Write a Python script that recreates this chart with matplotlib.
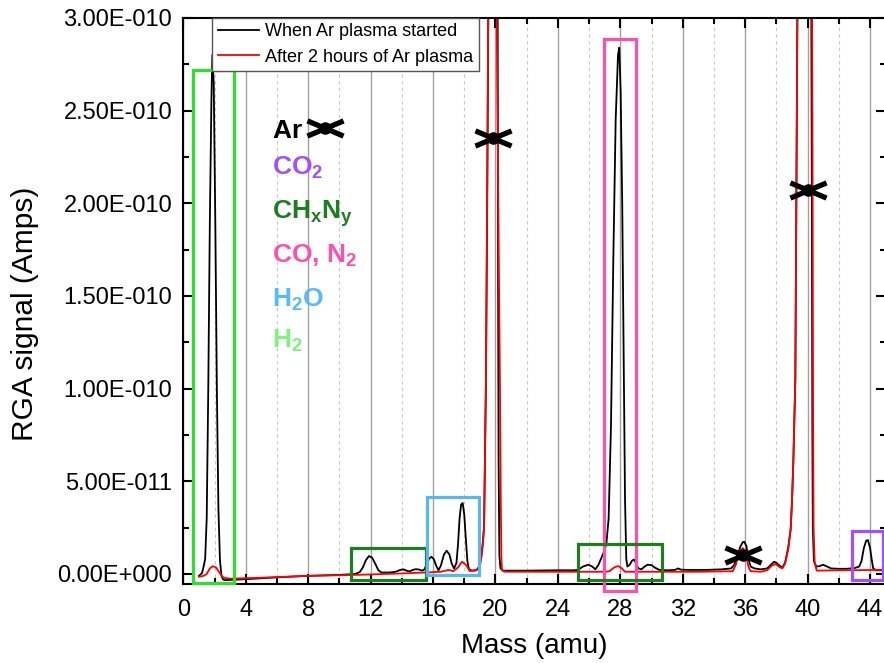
import numpy as np
import matplotlib
matplotlib.use("Agg")
import matplotlib.pyplot as plt
from matplotlib.ticker import MultipleLocator, FuncFormatter
from matplotlib.patches import Rectangle
from matplotlib.path import Path

plt.rcParams["font.family"] = ["Liberation Sans", "DejaVu Sans"]
plt.rcParams["mathtext.fontset"] = "custom"
plt.rcParams["mathtext.rm"] = "Liberation Sans"
plt.rcParams["mathtext.bf"] = "Liberation Sans:bold"

# (mass, signal in 1e-10 A)
black_pts = [
    (1.0, -0.010), (1.2, 0.005), (1.3, 0.040), (1.4, 0.080), (1.5, 0.30), (1.6, 1.00), (1.7, 1.90),
    (1.8, 2.55), (1.86, 2.80), (1.95, 2.65), (2.05, 1.90), (2.15, 1.00), (2.25, 0.35), (2.35, 0.07),
    (2.45, -0.01), (2.55, -0.03), (2.7, -0.033), (3.0, -0.032), (4.0, -0.028), (6.0, -0.018),
    (8.0, -0.010), (10.0, -0.005), (11.0, 0.000), (11.3, 0.010), (11.5, 0.035), (11.7, 0.075),
    (11.9, 0.097), (12.1, 0.088), (12.3, 0.055), (12.5, 0.020), (12.7, 0.008), (13.2, 0.008),
    (13.6, 0.012), (13.9, 0.022), (14.1, 0.025), (14.3, 0.018), (14.5, 0.014), (14.7, 0.022),
    (14.9, 0.026), (15.1, 0.024), (15.3, 0.018), (15.45, 0.025), (15.6, 0.055), (15.75, 0.083),
    (15.9, 0.093), (16.05, 0.080), (16.2, 0.045), (16.35, 0.020), (16.5, 0.045), (16.7, 0.105),
    (16.87, 0.126), (17.05, 0.105), (17.2, 0.055), (17.35, 0.030), (17.5, 0.060), (17.6, 0.160),
    (17.7, 0.300), (17.8, 0.375), (17.9, 0.383), (18.0, 0.320), (18.1, 0.190), (18.2, 0.070),
    (18.3, 0.025), (18.5, 0.018), (18.8, 0.022), (18.95, 0.040), (19.1, 0.100), (19.2, 0.180),
    (19.27, 0.260), (19.39, 1.05), (19.47, 2.0), (19.54, 3.0), (19.65, 5.0), (19.85, 8.0),
    (20.05, 5.0), (20.14, 3.0), (20.17, 1.5), (20.2, 0.6), (20.25, 0.10), (20.32, 0.030),
    (20.5, 0.018), (22.0, 0.018), (24.0, 0.020), (25.0, 0.020), (25.3, 0.022), (25.6, 0.040),
    (25.95, 0.050), (26.2, 0.040), (26.4, 0.025), (26.6, 0.050), (26.8, 0.090), (26.95, 0.120),
    (27.1, 0.160), (27.25, 0.300), (27.4, 0.80), (27.55, 1.70), (27.7, 2.45), (27.85, 2.80),
    (27.93, 2.84), (28.02, 2.60), (28.12, 2.00), (28.22, 1.10), (28.3, 0.40), (28.38, 0.080),
    (28.45, 0.040), (28.6, 0.050), (28.75, 0.072), (28.87, 0.078), (29.0, 0.060), (29.15, 0.030),
    (29.35, 0.025), (29.55, 0.040), (29.75, 0.050), (30.0, 0.048), (30.2, 0.035), (30.5, 0.022),
    (31.0, 0.020), (31.5, 0.022), (31.7, 0.030), (31.9, 0.023), (32.5, 0.022), (33.5, 0.022),
    (34.5, 0.025), (35.1, 0.030), (35.3, 0.050), (35.5, 0.100), (35.7, 0.150), (35.85, 0.172),
    (35.94, 0.174), (36.08, 0.150), (36.2, 0.080), (36.35, 0.040), (36.6, 0.030), (37.0, 0.025),
    (37.4, 0.030), (37.65, 0.050), (37.85, 0.066), (38.0, 0.060), (38.2, 0.045), (38.38, 0.035),
    (38.55, 0.060), (38.75, 0.140), (38.91, 0.240), (39.0, 0.40), (39.08, 0.60), (39.21, 1.05),
    (39.31, 2.5), (39.4, 4.0), (39.8, 9.0), (40.2, 4.0), (40.27, 2.0), (40.3, 0.8), (40.33, 0.25),
    (40.4, 0.07), (40.55, 0.040), (40.75, 0.042), (40.98, 0.050), (41.2, 0.042), (41.5, 0.030),
    (42.0, 0.028), (42.5, 0.028), (43.0, 0.032), (43.3, 0.040), (43.45, 0.070), (43.6, 0.140),
    (43.75, 0.180), (43.86, 0.183), (44.0, 0.140), (44.1, 0.080), (44.2, 0.030), (44.4, 0.020),
    (45.0, 0.020),
]
red_pts = [
    (1.0, -0.015), (1.3, -0.010), (1.5, 0.000), (1.7, 0.030), (1.9, 0.042), (2.1, 0.035),
    (2.3, 0.010), (2.5, -0.015), (2.7, -0.022), (3.0, -0.025), (5.0, -0.020), (8.0, -0.010),
    (11.0, -0.005), (14.0, 0.003), (15.5, 0.008), (16.5, 0.012), (17.0, 0.022), (17.3, 0.015),
    (17.6, 0.035), (17.85, 0.066), (18.1, 0.050), (18.35, 0.016), (18.7, 0.018), (18.9, 0.025),
    (19.0, 0.040), (19.1, 0.090), (19.2, 0.170), (19.27, 0.250), (19.39, 1.05), (19.47, 2.1),
    (19.54, 3.1), (19.65, 5.0), (19.85, 7.0), (20.0, 4.5), (20.08, 3.0), (20.2, 1.8), (20.29, 1.0),
    (20.34, 0.4), (20.38, 0.08), (20.42, 0.020), (20.6, 0.012), (24.0, 0.012), (27.0, 0.012),
    (27.3, 0.015), (27.6, 0.035), (27.85, 0.043), (28.1, 0.030), (28.3, 0.012), (30.0, 0.012),
    (33.0, 0.012), (35.2, 0.015), (35.4, 0.050), (35.6, 0.120), (35.85, 0.140), (36.05, 0.110),
    (36.2, 0.040), (36.35, 0.015), (37.0, 0.012), (37.4, 0.020), (37.7, 0.045), (37.95, 0.054),
    (38.15, 0.040), (38.38, 0.030), (38.55, 0.055), (38.75, 0.130), (38.91, 0.240), (39.0, 0.40),
    (39.08, 0.60), (39.21, 1.05), (39.31, 2.5), (39.4, 4.0), (39.8, 9.0), (40.25, 4.0),
    (40.32, 2.0), (40.35, 0.8), (40.38, 0.25), (40.45, 0.06), (40.58, 0.018), (42.0, 0.020),
    (45.0, 0.022),
]

# Ar markers (mass, signal 1e-10), plus the key marker next to the "Ar" label
ar_mass = [19.84, 35.87, 40.04, 9.08]
ar_sig = [2.353, 0.103, 2.072, 2.407]

# boxes: x0, x1, y0, y1 (1e-10), colour
boxes = [
    (0.64, 3.27, -0.05, 2.72, "#2ee02e"),
    (10.72, 15.53, -0.034, 0.142, "#1e7d1e"),
    (15.59, 18.94, -0.005, 0.415, "#55b8f5"),
    (26.95, 29.02, -0.09, 2.885, "#ff4fae"),
    (25.27, 30.69, -0.032, 0.16, "#1e7d1e"),
    (42.86, 44.8, -0.032, 0.234, "#a050ff"),
]

labels = [r"$\mathbf{Ar}$", r"$\mathbf{CO_2}$", r"$\mathbf{CH_xN_y}$", r"$\mathbf{CO}$, $\mathbf{N_2}$",
          r"$\mathbf{H_2O}$", r"$\mathbf{H_2}$"]
label_colors = ["black", "#a050ff", "#1e7d1e", "#ff4fae", "#55bbff", "#80f080"]
label_y = [2.351, 2.153, 1.919, 1.679, 1.442, 1.218]

scale = 1e-10
black_mass, black_sig = zip(*black_pts)
red_mass, red_sig = zip(*red_pts)
black_sig = np.array(black_sig) * scale
red_sig = np.array(red_sig) * scale

fig = plt.figure(figsize=(8.84, 6.63), dpi=100)
ax = fig.add_axes([183.3 / 884, 1 - 584 / 663, (885.7 - 183.3) / 884, (584 - 18) / 663])

ax.plot(black_mass, black_sig, color="black", lw=1.3, label="When Ar plasma started", zorder=2)
ax.plot(red_mass, red_sig, color="red", lw=1.3, label="After 2 hours of Ar plasma", zorder=2.1)

for x0, x1, y0, y1, c in boxes:
    ax.add_patch(Rectangle((x0, y0 * scale), x1 - x0, (y1 - y0) * scale, fill=False,
                           edgecolor=c, lw=2.3, zorder=3, clip_on=False))

# flat X marker with a dot in the middle
xmark = Path([(-1, -0.42), (1, 0.42), (-1, 0.42), (1, -0.42)],
             [Path.MOVETO, Path.LINETO, Path.MOVETO, Path.LINETO])
mk_y = np.array(ar_sig) * scale
ax.plot(ar_mass, mk_y, ls="none", marker=xmark, ms=26, mew=3.8, color="black", zorder=5, clip_on=False)
ax.plot(ar_mass, mk_y, ls="none", marker="o", ms=8, color="black", zorder=5, clip_on=False)

for txt, c, y in zip(labels, label_colors, label_y):
    ax.text(5.70, y * scale, txt, color=c, fontsize=19, fontweight="bold",
            va="baseline", ha="left", zorder=4)

ax.set_xlim(0, 45)
ax.set_ylim(-0.054e-10, 3.0e-10)
ax.xaxis.set_major_locator(MultipleLocator(4))
ax.xaxis.set_minor_locator(MultipleLocator(2))
ax.yaxis.set_major_locator(MultipleLocator(0.5e-10))
ax.yaxis.set_minor_locator(MultipleLocator(0.25e-10))


def sci(v, pos):
    m, e = f"{v:.2E}".split("E")
    e = int(e)
    return f"{m}E{'+' if e >= 0 else '-'}{abs(e):03d}"


ax.yaxis.set_major_formatter(FuncFormatter(sci))
ax.tick_params(which="both", direction="in", top=True, right=True, width=1.5, labelsize=17)
ax.tick_params(which="major", length=7)
ax.tick_params(axis="y", which="major", pad=8)
ax.tick_params(axis="x", which="major", pad=10.5)
ax.tick_params(which="minor", length=4)
for s in ax.spines.values():
    s.set_linewidth(1.5)

ax.set_axisbelow(True)
ax.grid(which="major", axis="x", color="#a0a0a0", lw=1, ls="-")
ax.grid(which="minor", axis="x", color="#c8c8c8", lw=0.8, ls=(0, (3, 3)))

ax.set_xlabel("Mass (amu)", fontsize=20)
ax.set_ylabel("RGA signal (Amps)", fontsize=21.5)
ax.xaxis.set_label_coords(0.5, -0.086)
ax.yaxis.set_label_coords(-0.205, 0.477)

leg = ax.legend(loc="upper left", bbox_to_anchor=(0.041, 1.0), borderaxespad=0, fontsize=13,
                frameon=True, fancybox=False, framealpha=1, edgecolor="#555555",
                handlelength=2.3, handletextpad=0.35, labelspacing=0.45, borderpad=0.3)
leg.get_frame().set_linewidth(1)
leg.set_zorder(6)

fig.savefig("out.png", dpi=100)
